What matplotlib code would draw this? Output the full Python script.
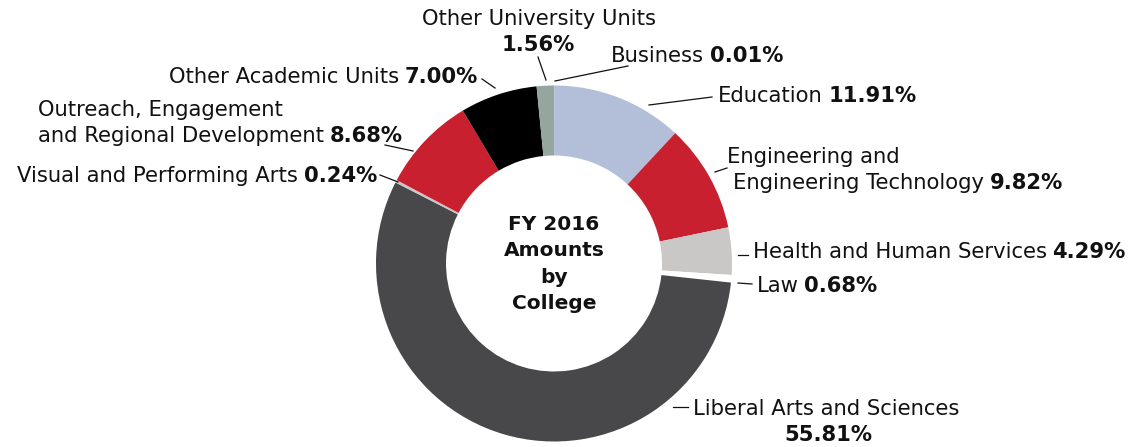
import numpy as np
import matplotlib as mpl
import matplotlib.pyplot as plt

mpl.rcParams['font.family'] = 'DejaVu Sans'
mpl.rcParams['font.size'] = 15.2

# slices, clockwise from 12 o'clock
colleges = ['Business', 'Education', 'Engineering and Engineering Technology',
            'Health and Human Services', 'Law', 'Liberal Arts and Sciences',
            'Visual and Performing Arts',
            'Outreach, Engagement and Regional Development',
            'Other Academic Units', 'Other University Units']
shares = [0.01, 11.91, 9.82, 4.29, 0.68, 55.81, 0.24, 8.68, 7.00, 1.56]
colors = ['#b3bfd8', '#b3bfd8', '#c8202f', '#c9c8c6', '#ffffff', '#48484a',
          '#c9c8c6', '#c8202f', '#000000', '#95a69f']
pct = ['%.2f%%' % v for v in shares]

W, H = 1131, 447
fig = plt.figure(figsize=(W / 100, H / 100), dpi=100)
ax = fig.add_axes([0, 0, 1, 1])

ax.pie(shares, colors=colors, startangle=90, counterclock=False,
       radius=178, center=(554, H - 263.5),
       wedgeprops=dict(width=70, linewidth=0))
ax.set_xlim(0, W)
ax.set_ylim(0, H)
ax.set_aspect('equal')
ax.axis('off')

INK = '#111111'


def py(y):
    # picture rows counted from the top
    return H - y


def label_left(x, y, normal, bold):
    t1 = ax.text(x, py(y), normal, ha='left', va='baseline', color=INK)
    ax.annotate(bold, xy=(1, 0), xycoords=t1, xytext=(4, 0),
                textcoords='offset points', ha='left', va='bottom',
                fontweight='bold', color=INK)


def label_right(x, y, normal, bold):
    t2 = ax.text(x, py(y), bold, ha='right', va='baseline',
                 fontweight='bold', color=INK)
    ax.annotate(normal, xy=(0, 0), xycoords=t2, xytext=(-4, 0),
                textcoords='offset points', ha='right', va='bottom',
                color=INK)


def leader(x0, y0, x1, y1):
    ax.plot([x0, x1], [py(y0), py(y1)], color=INK, lw=0.9)


# Other University Units
ax.text(539, py(25), 'Other University Units', ha='center', va='baseline', color=INK)
ax.text(538, py(51), pct[9], ha='center', va='baseline', fontweight='bold', color=INK)
leader(538, 57, 546, 80)

label_left(611, 62, 'Business', pct[0])
leader(555, 81, 628, 66)

label_right(478, 83, 'Other Academic Units', pct[8])
leader(482, 79, 495, 88)

label_left(718, 102, 'Education', pct[1])
leader(649, 105, 712, 97)

ax.text(727, py(163), 'Engineering and', ha='left', va='baseline', color=INK)
label_left(733, 189, 'Engineering Technology', pct[2])
leader(715, 172, 727, 168)

label_left(753, 258, 'Health and Human Services', pct[3])
leader(738, 255, 748, 255)

label_left(757, 292, 'Law', pct[4])
leader(738, 283, 752, 284)

ax.text(693, py(415), 'Liberal Arts and Sciences', ha='left', va='baseline', color=INK)
ax.text(828, py(441), pct[5], ha='center', va='baseline', fontweight='bold', color=INK)
leader(673, 407, 688, 407)

ax.text(38, py(116), 'Outreach, Engagement', ha='left', va='baseline', color=INK)
label_left(38, 142, 'and Regional Development', pct[7])
leader(385, 145, 413, 151)

label_right(377, 182, 'Visual and Performing Arts', pct[6])
leader(380, 175, 398, 182)

ax.text(554, py(264), 'FY 2016\nAmounts\nby\nCollege', ha='center', va='center',
        fontweight='bold', fontsize=14.5, linespacing=1.5, color=INK)

plt.savefig('out.png', dpi=100)
